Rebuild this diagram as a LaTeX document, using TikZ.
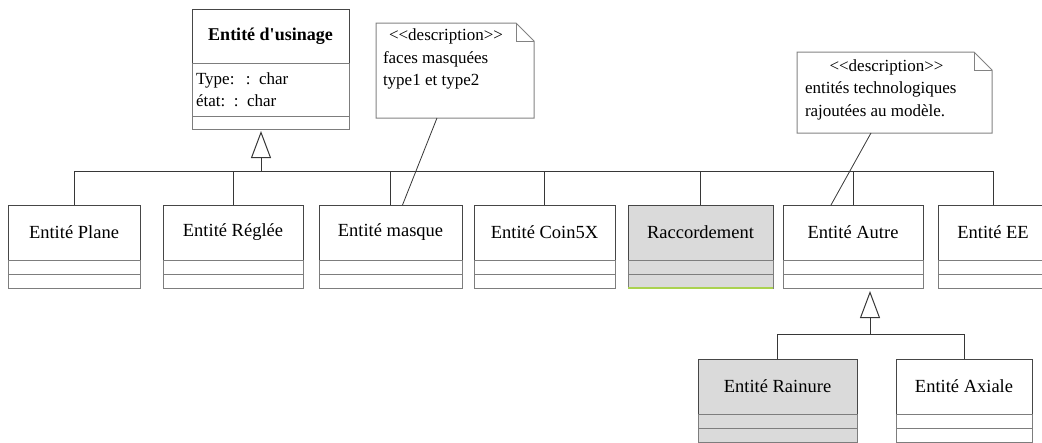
\documentclass[tikz,border=0pt]{standalone}
\usepackage{fontspec}
\setmainfont{Liberation Serif}[Ligatures=TeXOff]
\newfontfamily\umlfont{Liberation Serif}[Ligatures=TeXOff]
\usetikzlibrary{positioning, arrows.meta}
\definecolor{BoxLine}{RGB}{70,70,70}
\definecolor{RowLine}{RGB}{125,125,125}
\definecolor{ShadeFill}{RGB}{218,218,218}
\definecolor{NoteLine}{RGB}{130,130,130}
\definecolor{LinkColor}{RGB}{55,55,55}
\definecolor{EdgeGreen}{RGB}{170,210,80}

\begin{document}
\begin{tikzpicture}[
    x=1pt, y=-1pt,
    every node/.style={font=\umlfont\fontsize{18.5}{22}\selectfont, inner sep=0pt, outer sep=0pt},
    classhead/.style={draw=BoxLine, line width=1pt, minimum height=55pt},
    classrow/.style={draw=RowLine, line width=1pt, minimum height=14pt},
    notetext/.style={font=\umlfont\fontsize{17}{22.5}\selectfont, align=left, anchor=north west},
    notefold/.style={draw=NoteLine, line width=1pt, line join=miter},
    link/.style={draw=LinkColor, line width=0.9pt},
    inherit/.style={link, -{Triangle[open, length=27pt, width=20pt, line width=1pt]}},
    notelink/.style={draw=LinkColor, line width=0.8pt},
]
\useasboundingbox (0,0) rectangle (1042,442);

% Class box: title + two empty rows
% #1=name, #2=x centre, #3=top y, #4=width, #5=fill, #6=title
\newcommand{\umlclass}[6]{
    \node[classhead, fill=#5, minimum width=#4pt, anchor=north] (#1) at (#2,#3) {#6};
    \node[classrow, fill=#5, minimum width=#4pt, anchor=north] (#1-a) at (#1.south) {};
    \node[classrow, fill=#5, minimum width=#4pt, anchor=north] (#1-b) at (#1-a.south) {};
}

% Note with folded corner
% #1=name, #2=x centre, #3=y centre, #4=width, #5=height
\newcommand{\umlnote}[5]{
    \node[minimum width=#4pt, minimum height=#5pt] (#1) at (#2,#3) {};
    \draw[notefold] (#1.north west) -- ([xshift=-18pt]#1.north east) -- ([yshift=-18pt]#1.north east)
        -- (#1.south east) -- (#1.south west) -- cycle;
    \draw[notefold] ([xshift=-18pt]#1.north east) |- ([yshift=-18pt]#1.north east);
}

% Parent class
\node[classhead, minimum width=157pt, minimum height=54pt, anchor=north,
      font=\umlfont\bfseries\fontsize{18}{22}\selectfont] (usinage) at (270.5,9) {Entité d'usinage};
\node[classrow, minimum width=157pt, minimum height=53pt, anchor=north, text width=149pt,
      align=left, font=\umlfont\fontsize{17}{22}\selectfont] (usinage-attr) at (usinage.south)
      {Type:\ \ : char\\état: : char};
\node[classrow, minimum width=157pt, minimum height=13pt, anchor=north] (usinage-op) at (usinage-attr.south) {};

% Notes
\umlnote{note1}{455}{70.5}{158}{95}
\node[notetext] (note1-text) at ([xshift=7pt, yshift=-6pt]note1.north west)
    {\makebox[126pt]{<<description>>}\\faces masquées\\type1 et type2};
\umlnote{note2}{894.5}{92.5}{195}{81}
\node[notetext] (note2-text) at ([xshift=8pt, yshift=-7.5pt]note2.north west)
    {\makebox[163pt]{<<description>>}\\entités technologiques\\rajoutées au modèle.};

% Sub-classes, first level
\umlclass{plane}{74}{205}{132}{white}{Entité Plane}
\umlclass{reglee}{233}{205}{140}{white}{Entité Réglée}
\umlclass{masque}{390.5}{205}{143}{white}{Entité masque}
\umlclass{coin}{544.5}{205}{141}{white}{Entité Coin5X}
\umlclass{racc}{700.5}{205}{145}{ShadeFill}{Raccordement}
\umlclass{autre}{853}{205}{140}{white}{Entité Autre}
\umlclass{ee}{993}{205}{110}{white}{Entité EE}
\draw[EdgeGreen, line width=1.2pt] (racc-b.south west) -- (racc-b.south east);

% Sub-classes, second level
\umlclass{rainure}{777.5}{359}{159}{ShadeFill}{Entité Rainure}
\umlclass{axiale}{964}{359}{136}{white}{Entité Axiale}

% Generalisation to Entité d'usinage
\coordinate (split1) at (261,171);
\draw[inherit, shorten >=2pt] (split1) -- (split1 |- usinage-op.south);
\draw[link] (split1) -| (plane.north);
\draw[link] (split1) -| (reglee.north);
\draw[link] (split1) -| (masque.north);
\draw[link] (split1) -| (coin.north);
\draw[link] (split1) -| (racc.north);
\draw[link] (split1) -| (autre.north);
\draw[link] (split1) -| (ee.north);

% Generalisation to Entité Autre
\coordinate (split2) at (870,334);
\draw[inherit, shorten >=3pt] (split2) -- (split2 |- autre-b.south);
\draw[link] (split2) -| (rainure.north);
\draw[link] (split2) -| (axiale.north);

% Note anchors
\draw[notelink] ([xshift=-18pt]note1.south) -- ([xshift=12pt]masque.north);
\draw[notelink] ([xshift=-23.5pt]note2.south) -- ([xshift=-22pt]autre.north);

\end{tikzpicture}
\end{document}
